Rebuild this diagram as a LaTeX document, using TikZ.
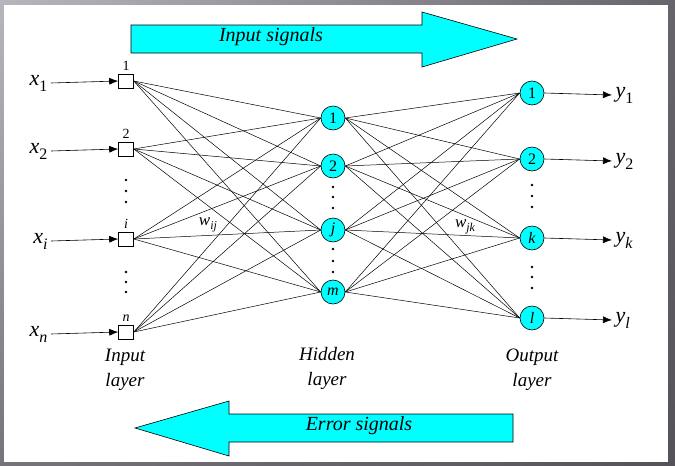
\documentclass[tikz,border=0pt]{standalone}
\usepackage{fontspec}
\setmainfont{Liberation Serif}
\usetikzlibrary{arrows.meta,shadings}
\definecolor{frameA}{HTML}{B8B5BC}
\definecolor{frameB}{HTML}{67656B}
\definecolor{frameC}{HTML}{76747A}
\definecolor{frameD}{HTML}{555359}
\definecolor{neon}{HTML}{00FFFF}
\newcommand{\lsub}[1]{\raisebox{-6pt}{\fontsize{16}{16}\selectfont\upshape #1}}
\newcommand{\wsub}[1]{\raisebox{-4pt}{\fontsize{12}{12}\selectfont\itshape #1}}

\begin{document}
\begin{tikzpicture}[x=1pt,y=-1pt,
    inbox/.style={draw,fill=white,minimum width=15pt,minimum height=14pt,inner sep=0pt,
      line width=0.6pt,label distance=0pt},
    neuron/.style={circle,draw,fill=neon,minimum size=24pt,inner sep=0pt,line width=0.6pt,
      font=\fontsize{16}{16}\selectfont},
    wire/.style={line width=0.5pt},
    sig/.style={-{Latex[length=9pt,width=7pt]},line width=0.6pt},
    big/.style={font=\fontsize{20}{22}\selectfont\itshape},
    sym/.style={font=\fontsize{22}{22}\selectfont\itshape},
    lay/.style={font=\fontsize{19}{25}\selectfont\itshape,align=center},
    numtxt/.style={font=\fontsize{14}{14}\selectfont}]

%frame
    \useasboundingbox (0,0) rectangle (675,466);
    \shade[upper left=frameA,upper right=frameB,lower left=frameC,lower right=frameD]
      (0,0) rectangle (675,466);
    \fill[white] (4,5) rectangle (668,462);

    \coordinate (I1) at (126, 81);
    \coordinate (I2) at (126, 149);
    \coordinate (I3) at (126, 239);
    \coordinate (I4) at (126, 332);
    \coordinate (H1) at (333, 118);
    \coordinate (H2) at (333, 166);
    \coordinate (H3) at (333, 230);
    \coordinate (H4) at (333, 292);
    \coordinate (O1) at (532, 93);
    \coordinate (O2) at (532, 159);
    \coordinate (O3) at (532, 238);
    \coordinate (O4) at (532, 318);

%signal arrows
    \draw[fill=neon,line width=0.6pt] (131,25) -- (422,25) -- (422,12) -- (517,39)
      -- (422,67) -- (422,53) -- (131,53) -- cycle;
    \draw[fill=neon,line width=0.6pt] (513,414) -- (229,414) -- (229,401) -- (135,428)
      -- (229,456) -- (229,442) -- (513,442) -- cycle;
    \node[big] (fwd) at (271, 37) {Input signals};
    \node[big] (bwd) at (359, 426) {Error signals};

%units
    \node[inbox,label={[numtxt]above:1}] (in1) at (I1) {};
    \node[inbox,label={[numtxt]above:2}] (in2) at (I2) {};
    \node[inbox,label={[numtxt]above:\textit{i}}] (in3) at (I3) {};
    \node[inbox,label={[numtxt]above:\textit{n}}] (in4) at (I4) {};
    \node[neuron] (hd1) at (H1) {1};
    \node[neuron] (hd2) at (H2) {2};
    \node[neuron] (hd3) at (H3) {\textit{j}};
    \node[neuron] (hd4) at (H4) {\textit{m}};
    \node[neuron] (out1) at (O1) {1};
    \node[neuron] (out2) at (O2) {2};
    \node[neuron] (out3) at (O3) {\textit{k}};
    \node[neuron] (out4) at (O4) {\textit{l}};

%weights
    \foreach \a in {1,...,4}
      \foreach \b in {1,...,4} {
        \draw[wire] (in\a.east) -- (hd\b.west);
        \draw[wire] (hd\a.east) -- (out\b.west);
      }

%inputs and outputs
    \node[sym,anchor=east] (x1) at (51, 83) {x\lsub{1}};
    \node[sym,anchor=east] (x2) at (51, 151) {x\lsub{2}};
    \node[sym,anchor=east] (x3) at (51, 241) {x\lsub{\textit{i}}};
    \node[sym,anchor=east] (x4) at (51, 334) {x\lsub{\textit{n}}};
    \node[sym,anchor=west] (y1) at (612, 95) {y\lsub{1}};
    \node[sym,anchor=west] (y2) at (612, 161) {y\lsub{2}};
    \node[sym,anchor=west] (y3) at (612, 240) {y\lsub{\textit{k}}};
    \node[sym,anchor=west] (y4) at (612, 320) {y\lsub{\textit{l}}};
    \foreach \a in {1,...,4} {
      \draw[sig] (x\a.east) -- (in\a.west);
      \draw[sig] (out\a.east) -- (y\a.west);
    }

%dots
    \foreach \p in {180,191,202,272,282,292} \fill (126,\p) circle (1.4pt);
    \foreach \p in {187,197,208,249,261,272} \fill (333,\p) circle (1.4pt);
    \foreach \p in {185,196,207,267,277,288} \fill (532,\p) circle (1.4pt);

%labels
    \node[font=\fontsize{17}{17}\selectfont\itshape] (wij) at (208, 225) {w\wsub{ij}};
    \node[font=\fontsize{17}{17}\selectfont\itshape] (wjk) at (465, 227) {w\wsub{jk}};
    \node[lay] (inlay) at (125, 370) {Input\\layer};
    \node[lay] (hdlay) at (327, 368) {Hidden\\layer};
    \node[lay] (outlay) at (532, 370) {Output\\layer};

\end{tikzpicture}
\end{document}
